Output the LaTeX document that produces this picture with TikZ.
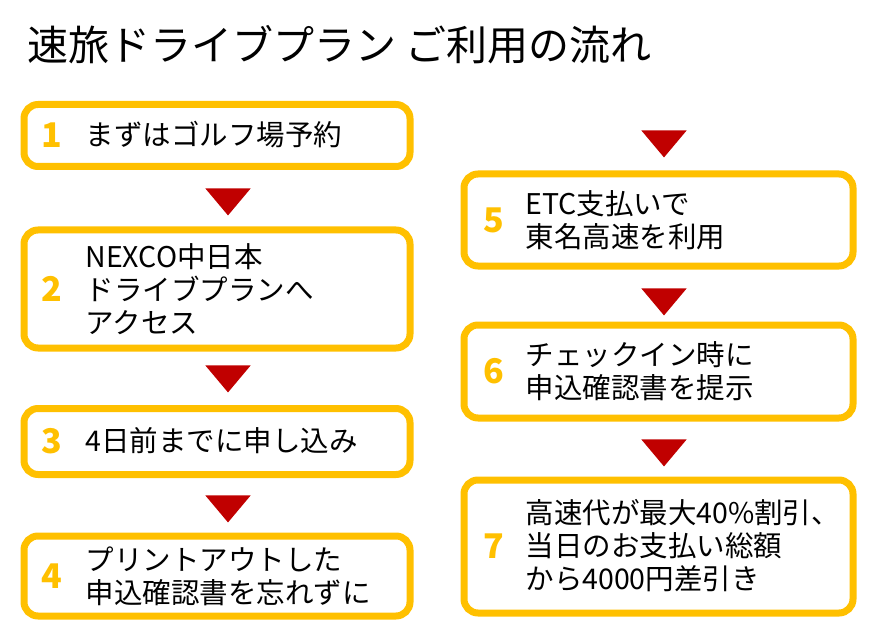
\documentclass[tikz,border=0pt]{standalone}
\usepackage{fontspec}
\setmainfont{Noto Sans CJK JP}
\usetikzlibrary{positioning,shapes.geometric}
\definecolor{frameyellow}{HTML}{FFC000}
\definecolor{arrowred}{HTML}{C00000}
\tikzset{
  stepbox/.style={draw=frameyellow,line width=7pt,rounded corners=14pt,fill=white,inner sep=0pt},
  num/.style={text=frameyellow,font=\fontsize{34}{34}\selectfont\bfseries,anchor=center},
  txt/.style={font=\fontsize{28.5}{33}\selectfont,anchor=west,align=left},
  down/.style={fill=arrowred,isosceles triangle,shape border rotate=-90,isosceles triangle apex angle=80,minimum width=40pt,minimum height=27pt,inner sep=0pt}
}
\begin{document}
\begin{tikzpicture}[x=1pt,y=-1pt]
\useasboundingbox (0,0) rectangle (877,628);
\node[anchor=west,font=\fontsize{41}{41}\selectfont] (title) at (24,45) {速旅ドライブプラン ご利用の流れ};
% left column
\node[stepbox,minimum width=386pt,minimum height=62pt] (s1) at (217,135.5) {};
\node[stepbox,minimum width=386pt,minimum height=118pt] (s2) at (217,289) {};
\node[stepbox,minimum width=386pt,minimum height=66pt] (s3) at (217,441.5) {};
\node[stepbox,minimum width=386pt,minimum height=80pt] (s4) at (217,576) {};
% right column
\node[stepbox,minimum width=389pt,minimum height=92pt] (s5) at (658.5,220) {};
\node[stepbox,minimum width=389pt,minimum height=93pt] (s6) at (658.5,371.5) {};
\node[stepbox,minimum width=389pt,minimum height=133pt] (s7) at (658.5,546.5) {};
% numbers
\node[num] (n1) at (52,135) {1};
\node[num] (n2) at (52,289) {2};
\node[num] (n3) at (52,441) {3};
\node[num] (n4) at (52,576) {4};
\node[num] (n5) at (494,220) {5};
\node[num] (n6) at (494,371) {6};
\node[num] (n7) at (494,546) {7};
% texts
\node[txt] (t1) at (82,135) {まずはゴルフ場予約};
\node[txt] (t2) at (82,289) {NEXCO中日本\\ドライブプランへ\\アクセス};
\node[txt] (t3) at (82,441) {4日前までに申し込み};
\node[txt] (t4) at (82,576) {プリントアウトした\\申込確認書を忘れずに};
\node[txt] (t5) at (522,220) {ETC支払いで\\東名高速を利用};
\node[txt] (t6) at (522,371) {チェックイン時に\\申込確認書を提示};
\node[txt] (t7) at (522,546) {高速代が最大40\%割引、\\当日のお支払い総額\\から4000円差引き};
% arrows
\node[down] (a1) at (228,199) {};
\node[down] (a2) at (228,376) {};
\node[down] (a3) at (228,506) {};
\node[down] (a4) at (664,141) {};
\node[down] (a5) at (664,299) {};
\node[down] (a6) at (664,450) {};
\end{tikzpicture}
\end{document}
